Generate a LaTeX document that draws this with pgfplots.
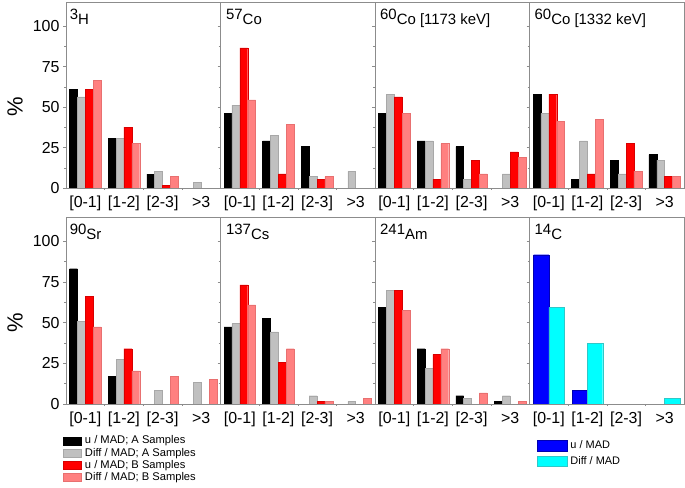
\documentclass[border=0pt]{standalone}
\usepackage{fontspec}
\setmainfont{Liberation Sans}
\usepackage{pgfplots}
\pgfplotsset{compat=1.18}

\definecolor{axgray}{HTML}{8C8C8C}
\definecolor{cgray}{HTML}{C0C0C0}
\definecolor{cgrayd}{HTML}{A8A8A8}
\definecolor{cred}{HTML}{FF0000}
\definecolor{credd}{HTML}{D80000}
\definecolor{cpink}{HTML}{FF8080}
\definecolor{cpinkd}{HTML}{E87070}
\definecolor{cblue}{HTML}{0000FF}
\definecolor{cblued}{HTML}{0000B0}
\definecolor{ccyan}{HTML}{00FFFF}
\definecolor{ccyand}{HTML}{30C8C8}

\newcommand\ttl{\fontsize{15}{15}\selectfont}

\pgfplotsset{
  panel/.style={
    scale only axis, width=154.5bp, height=186bp, anchor=south west,
    xmin=-0.5, xmax=3.5, ymin=0, ymax=115,
    ybar=0pt, bar width=7.9bp,
    axis line style={draw=axgray, line width=0.6bp},
    xtick={0,1,2,3}, xticklabels={{[0-1]},{[1-2]},{[2-3]},{>3}},
    minor xtick={0.5,1.5,2.5},
    ytick={0,25,50,75,100}, minor ytick={12.5,37.5,62.5,87.5},
    xtick pos=bottom, ytick pos=left,
    tick align=outside,
    major tick length=3bp, minor tick length=2bp,
    tick style={draw=axgray, line width=0.5bp},
    every major x tick/.append style={draw=none},
    yticklabels={},
    /pgf/number format/assume math mode=true,
    ticklabel style={font=\fontsize{16}{16}\selectfont},
    xticklabel style={yshift=-1.5bp},
  },
  firstcol/.style={
    yticklabels={0,25,50,75,100},
    ylabel={\%},
    ylabel style={at={(rel axis cs:0,0.435)}, anchor=center, yshift=51bp,
      font=\fontsize{22}{22}\selectfont},
  },
  sA/.style={fill=black, draw=black, line width=0.4bp},
  sAd/.style={fill=cgray, draw=cgrayd, line width=0.4bp},
  sB/.style={fill=cred, draw=credd, line width=0.4bp},
  sBd/.style={fill=cpink, draw=cpinkd, line width=0.4bp},
  sU/.style={fill=cblue, draw=cblued, line width=0.4bp},
  sD/.style={fill=ccyan, draw=ccyand, line width=0.4bp},
  legsmall/.style={legend image code/.code={\draw[##1,/tikz/.cd] (0bp,-4bp) rectangle (18bp,4bp);}},
  legbig/.style={legend image code/.code={\draw[##1,/tikz/.cd] (0bp,-5.3bp) rectangle (30bp,5.3bp);}},
}

\begin{document}
\begin{tikzpicture}
\useasboundingbox (0,0) rectangle (685bp,488bp);

% ---------- top row ----------
\begin{axis}[panel, firstcol, at={(66bp,300bp)}]
\addplot[sA] coordinates {(0,61) (1,30.7) (2,8.6)};
\addplot[sAd] coordinates {(0,56.4) (1,30.7) (2,10.5) (3,3.7)};
\addplot[sB] coordinates {(0,61) (1,37.7) (2,1.6)};
\addplot[sBd] coordinates {(0,66.6) (1,27.5) (2,7)};
\node[anchor=north west, inner sep=0, font=\ttl] at (rel axis cs:0.023,0.962) {\raisebox{5bp}{3}H};
\end{axis}

\begin{axis}[panel, at={(220.5bp,300bp)}]
\addplot[sA] coordinates {(0,46.3) (1,29.1) (2,25.6)};
\addplot[sAd] coordinates {(0,51.2) (1,32.6) (2,7) (3,10.2)};
\addplot[sB] coordinates {(0,86.7) (1,8.8) (2,5.3)};
\addplot[sBd] coordinates {(0,54.5) (1,39.3) (2,7)};
\node[anchor=north west, inner sep=0, font=\ttl] at (rel axis cs:0.035,0.962) {\raisebox{5bp}{57}Co};
\end{axis}

\begin{axis}[panel, at={(375bp,300bp)}]
\addplot[sA] coordinates {(0,46.1) (1,29.1) (2,25.6)};
\addplot[sAd] coordinates {(0,58) (1,29.1) (2,5.3) (3,8.8)};
\addplot[sB] coordinates {(0,56.4) (1,5.3) (2,17.2) (3,22.3)};
\addplot[sBd] coordinates {(0,46.1) (1,27.5) (2,8.8) (3,18.9)};
\node[anchor=north west, inner sep=0, font=\ttl] at (rel axis cs:0.032,0.962) {\raisebox{5bp}{60}Co [1173 keV]};
\end{axis}

\begin{axis}[panel, at={(529.5bp,300bp)}]
\addplot[sA] coordinates {(0,58) (1,5.3) (2,17.2) (3,20.7)};
\addplot[sAd] coordinates {(0,46.1) (1,29.1) (2,8.8) (3,17.2)};
\addplot[sB] coordinates {(0,58) (1,8.8) (2,27.5) (3,7)};
\addplot[sBd] coordinates {(0,41) (1,42.6) (2,10.5) (3,7)};
\node[anchor=north west, inner sep=0, font=\ttl] at (rel axis cs:0.032,0.962) {\raisebox{5bp}{60}Co [1332 keV]};
\end{axis}

% ---------- bottom row ----------
\begin{axis}[panel, firstcol, height=187bp, at={(66bp,84bp)},
  legend style={at={(rel axis cs:-0.0175,-0.167)}, anchor=north west,
    draw=none, fill=none, inner sep=0pt, outer sep=0pt, row sep=1.3bp,
    font=\fontsize{11.2}{12}\selectfont,
    nodes={inner sep=0pt, text height=8.5bp, text depth=2.5bp},
    /tikz/every odd column/.append style={column sep=3.3bp}},
  legend cell align=left]
\addplot[sA, legsmall] coordinates {(0,83.2) (1,17)};
\addplot[sAd, legsmall] coordinates {(0,51) (1,27.3) (2,8.4) (3,13.5)};
\addplot[sB, legsmall] coordinates {(0,66.2) (1,34)};
\addplot[sBd, legsmall] coordinates {(0,47.5) (1,20.3) (2,17) (3,15.2)};
\legend{u / MAD; A Samples, Diff / MAD; A Samples, u / MAD; B Samples, Diff / MAD; B Samples}
\node[anchor=north west, inner sep=0, font=\ttl] at (rel axis cs:0.023,0.962) {\raisebox{5bp}{90}Sr};
\end{axis}

\begin{axis}[panel, height=187bp, at={(220.5bp,84bp)}]
\addplot[sA] coordinates {(0,47.5) (1,52.7)};
\addplot[sAd] coordinates {(0,49.4) (1,44.3) (2,5.1) (3,1.6)};
\addplot[sB] coordinates {(0,73.2) (1,25.4) (2,1.6)};
\addplot[sBd] coordinates {(0,61) (1,34) (2,1.6) (3,3.3)};
\node[anchor=north west, inner sep=0, font=\ttl] at (rel axis cs:0.035,0.962) {\raisebox{5bp}{137}Cs};
\end{axis}

\begin{axis}[panel, height=187bp, at={(375bp,84bp)}]
\addplot[sA] coordinates {(0,59.6) (1,34) (2,5.1) (3,1.6)};
\addplot[sAd] coordinates {(0,69.7) (1,22.1) (2,3.3) (3,5.1)};
\addplot[sB] coordinates {(0,69.7) (1,30.5)};
\addplot[sBd] coordinates {(0,57.8) (1,34) (2,6.8) (3,1.6)};
\node[anchor=north west, inner sep=0, font=\ttl] at (rel axis cs:0.032,0.962) {\raisebox{5bp}{241}Am};
\end{axis}

\begin{axis}[panel, height=187bp, at={(529.5bp,84bp)}, bar width=15.3bp,
  legend style={at={(rel axis cs:0.0466,-0.194)}, anchor=north west,
    draw=none, fill=none, inner sep=0pt, outer sep=0pt, row sep=4.3bp,
    font=\fontsize{11}{12}\selectfont,
    nodes={inner sep=0pt, text height=8.5bp, text depth=2.5bp},
    /tikz/every odd column/.append style={column sep=3.3bp}},
  legend cell align=left]
\addplot[sU, legbig] coordinates {(0,91.8) (1,8.4)};
\addplot[sD, legbig] coordinates {(0,59.4) (1,37.3) (3,3.3)};
\legend{u / MAD, Diff / MAD}
\node[anchor=north west, inner sep=0, font=\ttl] at (rel axis cs:0.032,0.962) {\raisebox{5bp}{14}C};
\end{axis}

\end{tikzpicture}
\end{document}
